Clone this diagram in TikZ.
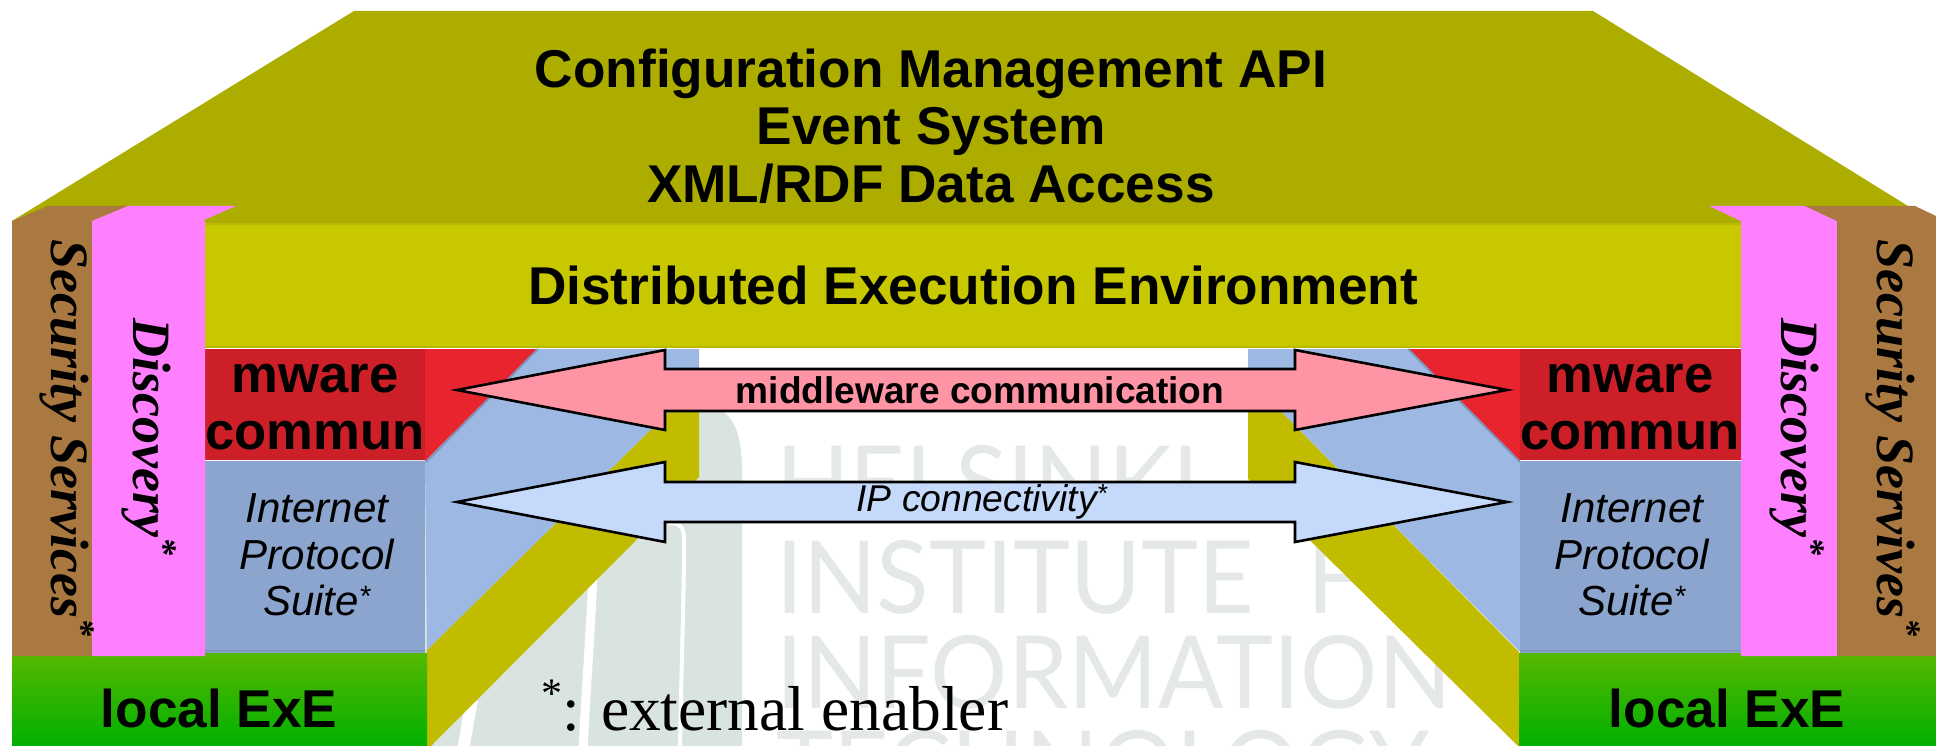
\documentclass[tikz,border=0pt]{standalone}
\usepackage{fontspec}
\setmainfont{Liberation Sans}
\newfontfamily\serifx{Liberation Serif}
\newfontfamily\wm{Lato}
\definecolor{oltop}{HTML}{ADAD00}
\definecolor{oldist}{HTML}{C8C800}
\definecolor{oledge}{HTML}{B9B900}
\definecolor{olside}{HTML}{C1BC00}
\definecolor{redfront}{HTML}{CC1F28}
\definecolor{redside}{HTML}{E8252F}
\definecolor{bluefront}{HTML}{8CA5CE}
\definecolor{blueside}{HTML}{9DB9E3}
\definecolor{edgeblue}{HTML}{7F97BC}
\definecolor{pinkbar}{HTML}{FF80FF}
\definecolor{brownbar}{HTML}{AA7942}
\definecolor{pinkarrow}{HTML}{FF94A5}
\definecolor{bluearrow}{HTML}{C5D9FB}
\definecolor{pale}{HTML}{D9E3DF}
\definecolor{wmc}{HTML}{E4E8E9}
\definecolor{greentop}{HTML}{56B800}
\definecolor{greenbot}{HTML}{00B000}
\newcommand{\serstar}{\raisebox{.36em}{\fontsize{36}{36}\selectfont *}}
\newcommand{\wmtext}[1]{\scalebox{.955}[1]{#1}}
\tikzset{
  bigarrow/.style={draw=black,line width=2.6pt,miter limit=10},
  title/.style={font=\fontsize{53.2}{57.5}\selectfont\bfseries,align=center,text=black,inner sep=0},
  blockb/.style={font=\fontsize{52.6}{57}\selectfont\bfseries,align=center,text=black,inner sep=0},
  localb/.style={font=\fontsize{53.2}{57}\selectfont\bfseries,text=black,inner sep=0},
  ital/.style={font=\fontsize{42}{46.5}\selectfont\itshape,align=center,text=black,inner sep=0},
  vert/.style={font=\serifx\fontsize{54}{60}\selectfont\bfseries\itshape,text=black,inner sep=0,rotate=-90,anchor=base},
  wmark/.style={font=\wm\fontsize{101}{101}\selectfont,text=wmc,inner sep=0,anchor=base west},
}
\begin{document}
\begin{tikzpicture}[x=1pt,y=-1pt]
\useasboundingbox (0,0) rectangle (1936,746);
\fill[white] (0,0) rectangle (1936,746);
% background picture
\begin{scope}
\clip (0,0) rectangle (1936,746);
\fill[pale] (400,746) -- (400,411) -- (722,411) .. controls (736,420) and (742,440) .. (742,470) -- (742,746) -- cycle;
\draw[white,line width=9pt] (593,575) .. controls (590,640) and (586,690) .. (583,750);
\draw[white,line width=4pt] (668,523) .. controls (680,523) and (684,526) .. (684,540) .. controls (684,600) and (681,680) .. (680,750);
\draw[white,line width=12pt] (472,700) -- (463,750);
\node[wmark] (wm1) at (776,518) {\wmtext{HELSINKI}};
\node[wmark] (wm2) at (776,613) {\wmtext{INSTITUTE\hspace{.3em} FOR}};
\node[wmark] (wm3) at (776,708) {\wmtext{INFORMATION}};
\node[wmark] (wm4) at (776,803) {\wmtext{TECHNOLOGY}};
\end{scope}
% roof
\fill[oltop] (354,11) -- (1593,11) -- (1908,206) -- (1908,224) -- (12,224) -- (12,221) -- cycle;
% side walls
\fill[olside] (427,650) -- (699,382) -- (699,477) -- (431,746) -- (425,746) -- cycle;
\fill[olside] (1519,652) -- (1248,378) -- (1248,479) -- (1518,746) -- (1520,746) -- cycle;
\fill[blueside] (538,349) -- (699,349) -- (699,382) -- (427,650) -- (425,461) -- cycle;
\fill[blueside] (1408,349) -- (1248,349) -- (1248,378) -- (1520,652) -- (1520,461) -- cycle;
\fill[redside] (425,349) -- (538,349) -- (425,461) -- cycle;
\fill[redside] (1520,349) -- (1408,349) -- (1520,461) -- cycle;
\draw[edgeblue,line width=2pt] (538,349) -- (426,462);
\draw[edgeblue,line width=2pt] (1408,349) -- (1520,462);
% fronts
\fill[oldist] (205,224) rectangle (1741,348);
\draw[oledge,line width=2pt] (205,224) -- (1741,224);
\draw[oledge,line width=2pt] (205,347) -- (1741,347);
\fill[redfront] (205,349) rectangle (425,460);
\fill[redfront] (1520,349) rectangle (1741,460);
\fill[bluefront] (205,461) rectangle (425,653);
\fill[bluefront] (1520,461) rectangle (1741,653);
\draw[edgeblue,line width=2pt] (205,651) -- (425,651);
\draw[edgeblue,line width=2pt] (1520,651) -- (1741,651);
\shade[top color=greentop,bottom color=greenbot] (12,653) rectangle (427,746);
\shade[top color=greentop,bottom color=greenbot] (1519,653) rectangle (1936,746);
% vertical bars
\fill[brownbar] (12,221) -- (48,206) -- (128,206) -- (92,221) -- (92,656) -- (12,656) -- cycle;
\fill[pinkbar] (92,221) -- (128,206) -- (236,206) -- (202,221) -- (205,221) -- (205,656) -- (92,656) -- cycle;
\fill[pinkbar] (1741,221) -- (1709,206) -- (1805,206) -- (1837,221) -- (1837,656) -- (1741,656) -- cycle;
\fill[brownbar] (1837,221) -- (1805,206) -- (1915,206) -- (1936,216) -- (1936,656) -- (1837,656) -- cycle;
% arrows
\draw[bigarrow,fill=pinkarrow] (457,390) -- (665,350) -- (665,369) -- (1295,369) -- (1295,350) -- (1507,390) -- (1295,430) -- (1295,411) -- (665,411) -- (665,430) -- cycle;
\draw[bigarrow,fill=bluearrow] (457,502) -- (665,462) -- (665,482) -- (1295,482) -- (1295,462) -- (1507,502) -- (1295,542) -- (1295,522) -- (665,522) -- (665,542) -- cycle;
% text
\node[title] (roof) at (931,126) {Configuration Management API\\Event System\\XML/RDF Data Access};
\node[title] (dist) at (973,285) {Distributed Execution Environment};
\node[blockb] (mw1) at (315,407.5) {mware\\commun};
\node[blockb] (mw2) at (1630,407.5) {mware\\commun};
\node[ital] (ip1) at (317,555) {Internet\\Protocol\\Suite\textsuperscript{*}};
\node[ital] (ip2) at (1632,555) {Internet\\Protocol\\Suite\textsuperscript{*}};
\node[localb] (ex1) at (219,708) {local ExE};
\node[localb] (ex2) at (1727,708) {local ExE};
\node[vert] (ss1) at (51.5,438) {Security Services\serstar};
\node[vert] (ss2) at (1877,438) {Security Servives\serstar};
\node[vert] (di1) at (133,437) {Discovery\serstar};
\node[vert] (di2) at (1781,437) {Discovery\serstar};
\node[font=\fontsize{37.1}{44}\selectfont\bfseries,inner sep=0] (mc) at (980,390) {middleware communication};
\node[font=\fontsize{37.3}{44}\selectfont\itshape,inner sep=0] (ipc) at (982,502) {IP connectivity\textsuperscript{*}};
\node[font=\serifx\fontsize{63.5}{66}\selectfont,inner sep=0,anchor=base west] (ext) at (541,730) {\raisebox{.36em}{\fontsize{42}{42}\selectfont *}: external enabler};
\end{tikzpicture}
\end{document}
